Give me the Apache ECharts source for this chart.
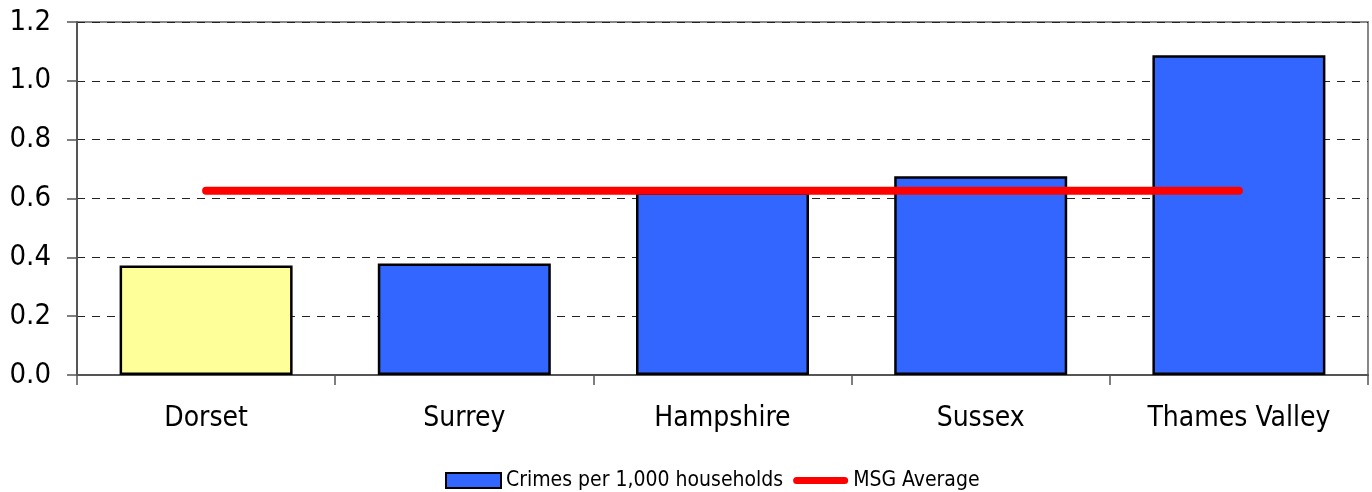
<!DOCTYPE html>
<html>
<head>
<meta charset="utf-8">
<script src="https://cdn.jsdelivr.net/npm/echarts@6/dist/echarts.min.js"></script>
<style>
  html, body { margin: 0; padding: 0; background: #fff; }
  #chart { width: 1372px; height: 492px; }
</style>
</head>
<body>
<div id="chart"></div>
<script>
// Crime rates by force area
const categories = ['Dorset', 'Surrey', 'Hampshire', 'Sussex', 'Thames Valley'];
const crimesPer1000 = [0.372, 0.379, 0.62, 0.676, 1.087];
const msgAverage = [0.626, 0.626, 0.626, 0.626, 0.626];
const yTicks = [0, 0.2, 0.4, 0.6, 0.8, 1.0, 1.2];
const highlighted = 'Dorset';

const FONT = '"DejaVu Sans Condensed", "Open Sans", sans-serif';
const BLUE = '#3366FF';
const YELLOW = '#FFFF99';
const RED = '#FF0000';

// thick round-capped stroke used as the legend key for the average line
const LINE_KEY = 'path://M0,0 M55,15 M3.5,4 L51.5,4 A3.5,3.5 0 0 1 51.5,11 L3.5,11 A3.5,3.5 0 0 1 3.5,4 Z';

const chart = echarts.init(document.getElementById('chart'), null, { renderer: 'canvas' });

chart.setOption({
  animation: false,
  backgroundColor: '#ffffff',
  textStyle: { fontFamily: FONT },
  grid: {
    left: 77, right: 4, top: 22, bottom: 117,
    show: true, borderColor: '#888888', borderWidth: 2, backgroundColor: 'transparent'
  },
  legend: {
    left: 445, top: 470, padding: 0,
    itemWidth: 55, itemHeight: 15, itemGap: 10,
    textStyle: { fontFamily: FONT, fontSize: 21, color: '#000' },
    data: [
      { name: 'Crimes per 1,000 households', icon: 'rect',
        itemStyle: { color: BLUE, borderColor: '#000', borderWidth: 2 } },
      { name: 'MSG Average', icon: LINE_KEY,
        itemStyle: { color: RED, borderWidth: 0 } }
    ]
  },
  xAxis: {
    type: 'category',
    data: categories,
    boundaryGap: true,
    axisLine: { show: true, lineStyle: { color: '#555', width: 2 } },
    axisTick: { show: true, length: 10, alignWithLabel: false, lineStyle: { color: '#555', width: 1.5 } },
    axisLabel: { fontFamily: FONT, fontSize: 28, color: '#000', margin: 30 },
    splitLine: { show: false }
  },
  yAxis: {
    type: 'value',
    min: yTicks[0], max: yTicks[yTicks.length - 1], interval: 0.2,
    axisLine: { show: true, lineStyle: { color: '#555', width: 2 } },
    axisTick: { show: true, length: 10, lineStyle: { color: '#555', width: 1.5 } },
    axisLabel: {
      fontFamily: FONT, fontSize: 29, color: '#000', margin: 26,
      formatter: v => v.toFixed(1)
    },
    splitLine: { show: true, lineStyle: { color: '#222', width: 1, type: [8, 7] } }
  },
  series: [
    {
      name: 'Crimes per 1,000 households',
      type: 'bar',
      barCategoryGap: '33%',
      data: crimesPer1000.map((v, i) => ({
        value: v,
        itemStyle: { color: categories[i] === highlighted ? YELLOW : BLUE }
      })),
      itemStyle: { color: BLUE, borderColor: '#000', borderWidth: 2.5 },
      z: 2
    },
    {
      name: 'MSG Average',
      type: 'line',
      data: msgAverage,
      symbol: 'none',
      color: RED,
      lineStyle: { color: RED, width: 8, cap: 'round' },
      z: 3
    }
  ]
});
</script>
</body>
</html>
